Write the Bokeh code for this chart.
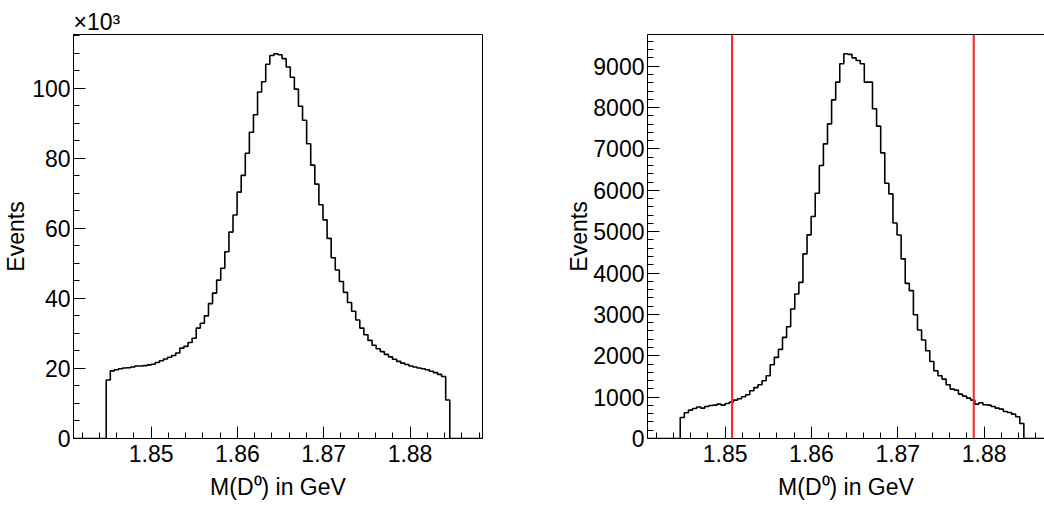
from bokeh.plotting import figure
from bokeh.layouts import row
from bokeh.models import FixedTicker, Span, LinearAxis, CustomJSTickFormatter, Range1d
from bokeh.embed import file_html
from bokeh.resources import INLINE

# ---------------- data ----------------
XMIN, XMAX, NBINS = 1.8410, 1.8884, 100

left_counts = [0, 0, 0, 0, 0, 0, 0, 0,
    16700, 19300, 19600, 19900, 20100, 20200, 20400, 20700, 20700, 20800,
    21000, 21200, 21700, 22200, 22700, 23200, 23700, 24400, 25800, 26300,
    27400, 28600, 31500, 32900, 35000, 38500, 41500, 45200, 48600, 53300,
    58900, 63800, 70300, 75100, 81400, 87400, 92400, 98900, 101800, 106800,
    109300, 109800, 109500, 108400, 106000, 103100, 99700, 94800, 90800, 84100,
    78000, 72600, 66700, 62400, 57100, 51600, 48100, 44800, 41700, 38800,
    36300, 33800, 31500, 29600, 28000, 26600, 25600, 24800, 24000, 23300,
    22600, 22000, 21500, 21100, 20700, 20400, 20100, 19900, 19600, 19200,
    18800, 18300, 17700, 11000,
    0, 0, 0, 0, 0, 0, 0, 0]

right_counts = [0, 0, 0, 0, 0, 0, 0, 0,
    509, 622, 687, 727, 760, 735, 774, 798, 806, 832,
    806, 847, 880, 928, 960, 1008, 1057, 1154, 1230, 1299,
    1396, 1517, 1783, 1960, 2154, 2444, 2702, 3130, 3494, 3774,
    4463, 4923, 5365, 5930, 6598, 7122, 7606, 8186, 8614, 9058,
    9301, 9285, 9200, 9139, 9058, 8614, 8614, 7970, 7550, 6905,
    6170, 5913, 5211, 4921, 4341, 3750, 3574, 2993, 2622, 2380,
    2122, 1863, 1638, 1517, 1436, 1299, 1194, 1170, 1073, 1025,
    976, 928, 832, 863, 815, 806, 774, 734, 710, 653,
    629, 589, 525, 363,
    0, 0, 0, 0, 0, 0, 0, 0]

cut_lines = [1.8508, 1.8788]
x_ticks = [1.85, 1.86, 1.87, 1.88]
left_y_ticks = [0, 20000, 40000, 60000, 80000, 100000]
right_y_ticks = [0, 1000, 2000, 3000, 4000, 5000, 6000, 7000, 8000, 9000]
x_title = "M(D\u2070) in GeV"
y_title = "Events"
scale_title = "\u00d710\u00b3"

FONT = "Liberation Sans"
FS = 23
H = 505

width_bin = (XMAX - XMIN) / NBINS
edges = [XMIN + i * width_bin for i in range(NBINS + 1)]


def style_axes(p, y_minor, ylabel_standoff):
    x_minor = [round(1.842 + 0.002 * i, 4) for i in range(24)]
    p.xaxis.ticker = FixedTicker(ticks=x_ticks, minor_ticks=x_minor)
    p.yaxis.ticker.minor_ticks = y_minor
    for ax in (p.xaxis[0], p.yaxis[0]):
        ax.major_tick_in = 12
        ax.major_tick_out = 0
        ax.minor_tick_in = 6
        ax.minor_tick_out = 0
        ax.axis_line_color = "black"
        ax.major_tick_line_color = "black"
        ax.minor_tick_line_color = "black"
        ax.major_label_text_font = FONT
        ax.major_label_text_font_size = f"{FS}px"
        ax.major_label_text_color = "black"
        ax.axis_label_text_font = FONT
        ax.axis_label_text_font_size = f"{FS}px"
        ax.axis_label_text_font_style = "normal"
        ax.axis_label_text_color = "black"
    p.xaxis.major_label_standoff = 6
    p.yaxis.major_label_standoff = 3
    p.xaxis.axis_label = x_title
    p.xaxis.axis_label_standoff = 9
    p.yaxis.axis_label = y_title
    p.yaxis.axis_label_standoff = ylabel_standoff
    p.grid.visible = False


# ---------------- left plot ----------------
L1 = 73
lmax = max(left_counts) * 1.05
p1 = figure(width=522, height=H, x_range=Range1d(XMIN, XMAX), y_range=Range1d(0, lmax),
            output_backend="svg", toolbar_location=None,
            min_border_left=L1, min_border_right=40, min_border_top=34, min_border_bottom=67)
p1.step(edges, left_counts + [left_counts[-1]], mode="after", line_color="black", line_width=1.6)
p1.yaxis.ticker = FixedTicker(ticks=left_y_ticks)
style_axes(p1, [5000 * i for i in range(24)], 0)
p1.yaxis.formatter = CustomJSTickFormatter(code="return (tick/1000).toFixed(0)")
p1.outline_line_color = "black"
p1.outline_line_width = 1
p1.outline_line_alpha = 1
p1.title.text = scale_title
p1.title.align = "left"
p1.title.text_font = FONT
p1.title.text_font_size = "23px"
p1.title.text_font_style = "normal"
p1.title.text_color = "black"
p1.title.standoff = 0
p1.title.offset = 0

# ---------------- right plot ----------------
L2 = 125
rmax = max(right_counts) * 1.05
p2 = figure(width=522, height=H, x_range=Range1d(XMIN, 1.8870), y_range=Range1d(0, rmax),
            output_backend="svg", toolbar_location=None,
            min_border_left=L2, min_border_right=0, min_border_top=34, min_border_bottom=67)
p2.step(edges, right_counts + [right_counts[-1]], mode="after", line_color="black", line_width=1.6)
p2.yaxis.ticker = FixedTicker(ticks=right_y_ticks)
style_axes(p2, [200 * i for i in range(50)], -2)
p2.outline_line_color = None
top = LinearAxis(ticker=FixedTicker(ticks=[]), major_label_text_font_size="0px",
                 axis_line_color="black", major_tick_line_color=None, minor_tick_line_color=None)
p2.add_layout(top, "above")
for xc in cut_lines:
    p2.add_layout(Span(location=xc, dimension="height", line_color="#ff2020", line_width=2))

layout = row(p1, p2)
open("out.html", "w").write(file_html(layout, INLINE))
